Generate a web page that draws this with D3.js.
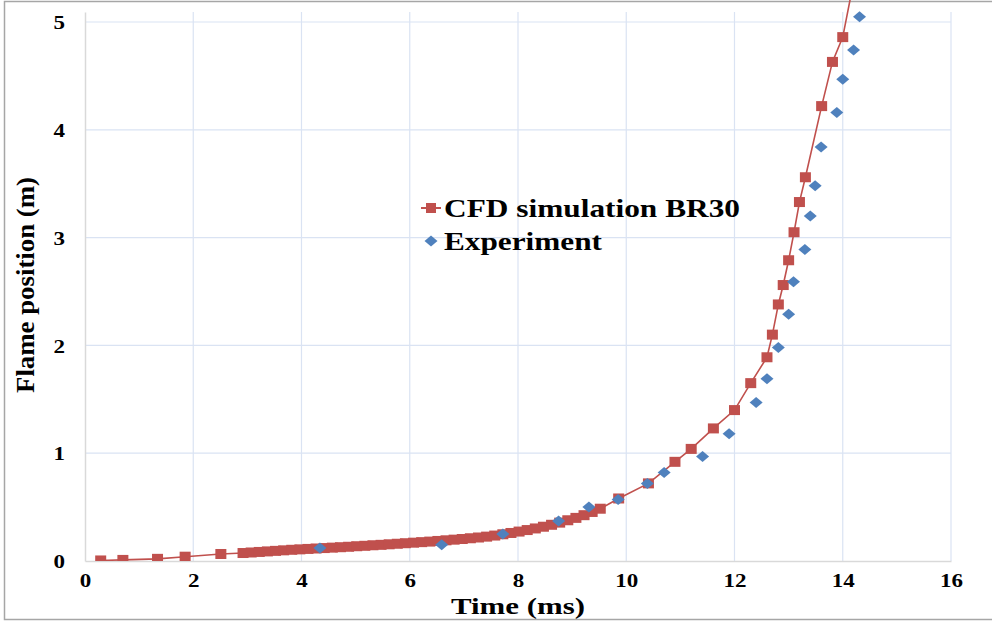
<!DOCTYPE html>
<html>
<head>
<meta charset="utf-8">
<script src="https://cdn.jsdelivr.net/npm/d3@7"></script>
<style>
  body { margin: 0; background: #fff; }
  text { font-family: "Liberation Serif", "Times New Roman", serif; font-weight: bold; fill: #000; }
</style>
</head>
<body>
<div id="wrapper"></div>
<script>
// CFD simulation BR30 (time in ms, flame position in m)
const cfdTime = [0.29, 0.70, 1.34, 1.85, 2.51, 2.92, 3.07, 3.22, 3.37, 3.52, 3.67, 3.82, 3.97, 4.12, 4.27, 4.42, 4.57, 4.72, 4.87, 5.02, 5.17, 5.32, 5.47, 5.62, 5.77, 5.92, 6.07, 6.22, 6.37, 6.52, 6.67, 6.82, 6.97, 7.12, 7.27, 7.42, 7.57, 7.72, 7.87, 8.02, 8.17, 8.32, 8.47, 8.62, 8.77, 8.92, 9.07, 9.22, 9.37, 9.52, 9.86, 10.41, 10.9, 11.2, 11.61, 12.0, 12.3, 12.6, 12.7, 12.81, 12.9, 13.0, 13.1, 13.2, 13.31, 13.61, 13.81, 14.0, 14.25]
const cfdPos = [0.005, 0.01, 0.02, 0.04, 0.065, 0.074, 0.079, 0.084, 0.089, 0.094, 0.099, 0.104, 0.108, 0.112, 0.116, 0.120, 0.124, 0.128, 0.132, 0.137, 0.141, 0.146, 0.150, 0.155, 0.160, 0.165, 0.170, 0.175, 0.180, 0.186, 0.192, 0.198, 0.204, 0.211, 0.218, 0.226, 0.236, 0.248, 0.26, 0.273, 0.287, 0.302, 0.318, 0.336, 0.356, 0.378, 0.40, 0.425, 0.455, 0.485, 0.58, 0.72, 0.92, 1.04, 1.23, 1.40, 1.65, 1.89, 2.10, 2.38, 2.56, 2.79, 3.05, 3.33, 3.56, 4.22, 4.63, 4.86, 5.5]

// Experiment
const expTime = [4.34, 6.59, 7.72, 8.75, 9.31, 9.85, 10.39, 10.7, 11.41, 11.9, 12.4, 12.6, 12.81, 13.0, 13.09, 13.3, 13.4, 13.49, 13.6, 13.89, 14.0, 14.2, 14.31]
const expPos = [0.12, 0.15, 0.25, 0.37, 0.50, 0.57, 0.72, 0.82, 0.97, 1.18, 1.47, 1.69, 1.98, 2.29, 2.59, 2.89, 3.20, 3.48, 3.84, 4.16, 4.47, 4.74, 5.05]

const xTicks = [0, 2, 4, 6, 8, 10, 12, 14, 16]
const yTicks = [0, 1, 2, 3, 4, 5]

const seriesNames = ["CFD simulation BR30", "Experiment"]
const red = "#C0504D"
const blue = "#4F81BD"

const cfd = cfdTime.map((t, i) => ({ t: t, v: cfdPos[i] }))
const exp = expTime.map((t, i) => ({ t: t, v: expPos[i] }))

const dimensions = {
  width: 992,
  height: 621,
  margin: { top: 12, right: 41, bottom: 60, left: 85 }
}
dimensions.boundedWidth = dimensions.width - dimensions.margin.left - dimensions.margin.right
dimensions.boundedHeight = dimensions.height - dimensions.margin.top - dimensions.margin.bottom

const xScale = d3.scaleLinear()
  .domain([0, 16])
  .range([0, dimensions.boundedWidth])

const yScale = d3.scaleLinear()
  .domain([0, 5.093])
  .range([dimensions.boundedHeight, 0])

const wrapper = d3.select("#wrapper")
  .append("svg")
    .attr("width", dimensions.width)
    .attr("height", dimensions.height)

// outer frame
wrapper.append("rect")
  .attr("x", 4.5)
  .attr("y", 1.5)
  .attr("width", 995)
  .attr("height", 618)
  .attr("fill", "none")
  .attr("stroke", "#a6a6a6")
  .attr("stroke-width", 1.5)

const bounds = wrapper.append("g")
  .attr("transform", `translate(${dimensions.margin.left},${dimensions.margin.top})`)

// gridlines
bounds.selectAll(".vgrid")
  .data(xTicks.slice(1))
  .enter().append("line")
    .attr("x1", d => xScale(d))
    .attr("x2", d => xScale(d))
    .attr("y1", 0)
    .attr("y2", dimensions.boundedHeight)
    .attr("stroke", "#dae3f3")
    .attr("stroke-width", 1.2)

bounds.selectAll(".hgrid")
  .data(yTicks.slice(1))
  .enter().append("line")
    .attr("x1", 0)
    .attr("x2", dimensions.boundedWidth)
    .attr("y1", d => yScale(d))
    .attr("y2", d => yScale(d))
    .attr("stroke", "#dae3f3")
    .attr("stroke-width", 1.2)

// axes
const xAxis = d3.axisBottom(xScale).tickValues(xTicks).tickSize(0).tickPadding(13).tickFormat(d3.format("d"))
const yAxis = d3.axisLeft(yScale).tickValues(yTicks).tickSize(0).tickPadding(20).tickFormat(d3.format("d"))

const xAxisGroup = bounds.append("g")
  .attr("transform", `translate(0,${dimensions.boundedHeight})`)
  .call(xAxis)
const yAxisGroup = bounds.append("g").call(yAxis)

xAxisGroup.select(".domain").attr("stroke", "#d9d9d9").attr("stroke-width", 1.5)
yAxisGroup.select(".domain").attr("stroke", "#d9d9d9").attr("stroke-width", 1.5)
bounds.selectAll(".tick text")
  .style("font-family", "'Liberation Serif', serif")
  .style("font-weight", "bold")
  .style("font-size", "19px")
  .attr("fill", "#000")
  .attr("textLength", d => String(d).length * 11.5)
  .attr("lengthAdjust", "spacingAndGlyphs")
yAxisGroup.selectAll(".tick text").attr("dy", "0.35em")

// axis titles
wrapper.append("text")
  .attr("x", dimensions.margin.left + xScale(8))
  .attr("y", 614)
  .attr("text-anchor", "middle")
  .style("font-size", "24px")
  .attr("textLength", 134)
  .attr("lengthAdjust", "spacingAndGlyphs")
  .text("Time (ms)")

wrapper.append("text")
  .attr("transform", `translate(34,${285}) rotate(-90)`)
  .attr("text-anchor", "middle")
  .style("font-size", "26px")
  .attr("textLength", 216)
  .attr("lengthAdjust", "spacingAndGlyphs")
  .text("Flame position (m)")

// plot clip
bounds.append("clipPath")
  .attr("id", "clip")
  .append("rect")
    .attr("x", 0)
    .attr("y", -12)
    .attr("width", dimensions.boundedWidth + 20)
    .attr("height", dimensions.boundedHeight + 12)

const plot = bounds.append("g").attr("clip-path", "url(#clip)")

const lineGen = d3.line()
  .x(d => xScale(d.t))
  .y(d => yScale(d.v))

plot.append("path")
  .datum(cfd)
  .attr("d", lineGen)
  .attr("fill", "none")
  .attr("stroke", red)
  .attr("stroke-width", 1.6)

plot.selectAll(".cfd")
  .data(cfd)
  .enter().append("rect")
    .attr("x", d => xScale(d.t) - 5.5)
    .attr("y", d => yScale(d.v) - 5)
    .attr("width", 11)
    .attr("height", 10)
    .attr("fill", red)

const diamond = (cx, cy) => `M${cx},${cy - 5.5}L${cx + 6.5},${cy}L${cx},${cy + 5.5}L${cx - 6.5},${cy}Z`

plot.selectAll(".exp")
  .data(exp)
  .enter().append("path")
    .attr("d", d => diamond(xScale(d.t), yScale(d.v)))
    .attr("fill", blue)

// legend
const legend = wrapper.append("g")
legend.append("line")
  .attr("x1", 421).attr("x2", 441)
  .attr("y1", 208).attr("y2", 208)
  .attr("stroke", red).attr("stroke-width", 2)
legend.append("rect")
  .attr("x", 426).attr("y", 203)
  .attr("width", 10).attr("height", 10)
  .attr("fill", red)
legend.append("path")
  .attr("d", diamond(431, 241))
  .attr("fill", blue)
const legendLengths = [296, 158]
legend.selectAll(".label")
  .data(seriesNames)
  .enter().append("text")
    .attr("x", 444)
    .attr("y", (d, i) => 217 + i * 33)
    .style("font-size", "26px")
    .attr("textLength", (d, i) => legendLengths[i])
    .attr("lengthAdjust", "spacingAndGlyphs")
    .text(d => d)
</script>
</body>
</html>
